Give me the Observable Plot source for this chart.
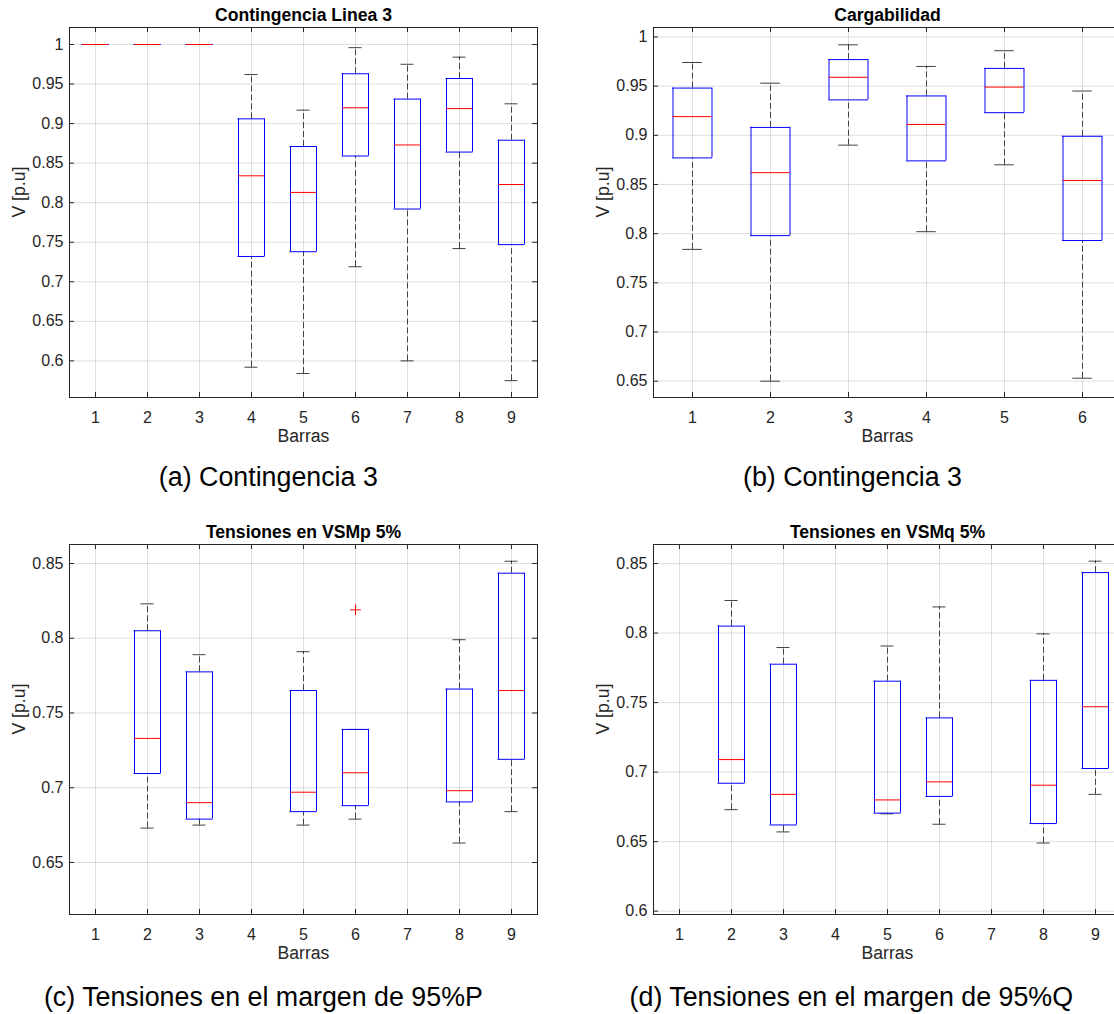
<!DOCTYPE html>
<html><head><meta charset="utf-8">
<script src="https://cdn.jsdelivr.net/npm/d3@7"></script>
<script src="https://cdn.jsdelivr.net/npm/@observablehq/plot@0.6"></script>
<style>
html,body{margin:0;padding:0;background:#fff;overflow:hidden;}
#page{position:relative;width:1114px;height:1014px;overflow:hidden;font-family:"Liberation Sans",Arial,sans-serif;background:#fff;}
.panel{position:absolute;}
.caption{position:absolute;width:600px;text-align:center;font-size:26.8px;line-height:26.8px;color:#000;white-space:nowrap;}
</style></head><body><div id="page"></div>
<script>
// ---------- Panel (a): Contingencia Linea 3 ----------
const barsA = [1, 2, 3, 4, 5, 6, 7, 8, 9];
const lowA  = [1, 1, 1, 0.592, 0.584, 0.719, 0.600, 0.742, 0.575];
const q1A   = [1, 1, 1, 0.732, 0.738, 0.859, 0.792, 0.864, 0.747];
const medA  = [1, 1, 1, 0.834, 0.813, 0.920, 0.873, 0.919, 0.823];
const q3A   = [1, 1, 1, 0.906, 0.871, 0.963, 0.931, 0.957, 0.879];
const highA = [1, 1, 1, 0.962, 0.917, 0.996, 0.975, 0.984, 0.925];
const yTicksA = [0.6, 0.65, 0.7, 0.75, 0.8, 0.85, 0.9, 0.95, 1];

// ---------- Panel (b): Cargabilidad ----------
const barsB = [1, 2, 3, 4, 5, 6];
const lowB  = [0.784, 0.650, 0.890, 0.802, 0.870, 0.653];
const q1B   = [0.877, 0.798, 0.936, 0.874, 0.923, 0.793];
const medB  = [0.919, 0.862, 0.959, 0.911, 0.949, 0.854];
const q3B   = [0.948, 0.908, 0.977, 0.940, 0.968, 0.899];
const highB = [0.974, 0.953, 0.992, 0.970, 0.986, 0.945];
const yTicksB = [0.65, 0.7, 0.75, 0.8, 0.85, 0.9, 0.95, 1];

// ---------- Panel (c): Tensiones en VSMp 5% ----------
const barsC = [2, 3, 5, 6, 8, 9];
const lowC  = [0.673, 0.675, 0.675, 0.679, 0.663, 0.684];
const q1C   = [0.7095, 0.679, 0.684, 0.688, 0.6905, 0.719];
const medC  = [0.733, 0.690, 0.697, 0.710, 0.698, 0.765];
const q3C   = [0.805, 0.7775, 0.765, 0.739, 0.766, 0.8435];
const highC = [0.823, 0.789, 0.791, 0.739, 0.799, 0.8515];
const outBarsC = [6];
const outValsC = [0.819];
const yTicksC = [0.65, 0.7, 0.75, 0.8, 0.85];

// ---------- Panel (d): Tensiones en VSMq 5% ----------
const barsD = [2, 3, 5, 6, 8, 9];
const lowD  = [0.673, 0.657, 0.670, 0.6625, 0.649, 0.684];
const q1D   = [0.692, 0.662, 0.6705, 0.6825, 0.663, 0.7026];
const medD  = [0.709, 0.684, 0.680, 0.693, 0.6906, 0.747];
const q3D   = [0.805, 0.7776, 0.7654, 0.739, 0.766, 0.8435];
const highD = [0.8234, 0.7896, 0.7907, 0.8188, 0.7994, 0.8517];
const yTicksD = [0.6, 0.65, 0.7, 0.75, 0.8, 0.85];

const xTicks9 = [1, 2, 3, 4, 5, 6, 7, 8, 9];
const xTicks6 = [1, 2, 3, 4, 5, 6];

const titles = ["Contingencia Linea 3", "Cargabilidad", "Tensiones en VSMp 5%", "Tensiones en VSMq 5%"];
const captions = ["(a) Contingencia 3", "(b) Contingencia 3", "(c) Tensiones en el margen de 95%P", "(d) Tensiones en el margen de 95%Q"];
const xLabel = "Barras";
const yLabel = "V [p.u]";

const FONT = '"Liberation Sans", Arial, sans-serif';
const INK = "#262626";

function boxPanel({bars, low, q1, med, q3, high, outBars = [], outVals = [], xTicks, yTicks, yDomain, title, width, marginLeft, marginRight}) {
  const height = 460, marginTop = 27, marginBottom = 63;
  const frameW = width - marginLeft - marginRight;
  const frameH = height - marginTop - marginBottom;
  const tk = 5;
  const idx = bars.map((_, i) => i);
  const oIdx = outBars.map((_, i) => i);
  const hw = 0.25, cw = 0.125;
  return Plot.plot({
    width, height, marginLeft, marginRight, marginTop, marginBottom,
    style: {fontFamily: FONT, fontSize: "16px", color: INK, background: "transparent", overflow: "visible"},
    x: {domain: [xTicks[0] - 0.5, xTicks[xTicks.length - 1] + 0.5]},
    y: {domain: yDomain},
    marks: [
      Plot.gridX(xTicks, {stroke: INK, strokeOpacity: 0.15}),
      Plot.gridY(yTicks, {stroke: INK, strokeOpacity: 0.15}),
      // whiskers (dashed)
      Plot.ruleX(idx, {x: i => bars[i], y1: i => q3[i], y2: i => high[i], stroke: "#000", strokeOpacity: 0.7, strokeDasharray: "6,3"}),
      Plot.ruleX(idx, {x: i => bars[i], y1: i => low[i], y2: i => q1[i], stroke: "#000", strokeOpacity: 0.7, strokeDasharray: "6,3"}),
      // whisker caps
      Plot.ruleY(idx, {y: i => high[i], x1: i => bars[i] - cw, x2: i => bars[i] + cw, stroke: "#000", strokeOpacity: 0.75}),
      Plot.ruleY(idx, {y: i => low[i], x1: i => bars[i] - cw, x2: i => bars[i] + cw, stroke: "#000", strokeOpacity: 0.75}),
      // boxes
      Plot.ruleY(idx, {y: i => q1[i], x1: i => bars[i] - hw, x2: i => bars[i] + hw, stroke: "#0000ff", strokeLinecap: "square"}),
      Plot.ruleY(idx, {y: i => q3[i], x1: i => bars[i] - hw, x2: i => bars[i] + hw, stroke: "#0000ff", strokeLinecap: "square"}),
      Plot.ruleX(idx, {x: i => bars[i] - hw, y1: i => q1[i], y2: i => q3[i], stroke: "#0000ff"}),
      Plot.ruleX(idx, {x: i => bars[i] + hw, y1: i => q1[i], y2: i => q3[i], stroke: "#0000ff"}),
      // medians
      Plot.ruleY(idx, {y: i => med[i], x1: i => bars[i] - hw, x2: i => bars[i] + hw, stroke: "#ff0000"}),
      // outliers
      Plot.dot(oIdx, {x: i => outBars[i], y: i => outVals[i], symbol: "plus", r: 3.5, stroke: "#ff0000", strokeWidth: 1}),
      // frame and inward ticks
      Plot.frame({stroke: INK}),
      Plot.ruleX(xTicks, {x: d => d, insetTop: frameH - tk, stroke: INK}),
      Plot.ruleX(xTicks, {x: d => d, insetBottom: frameH - tk, stroke: INK}),
      Plot.ruleY(yTicks, {y: d => d, insetRight: frameW - tk, stroke: INK}),
      Plot.ruleY(yTicks, {y: d => d, insetLeft: frameW - tk, stroke: INK}),
      Plot.axisX({ticks: xTicks, tickSize: 0, tickPadding: 14, label: null, tickFormat: d => String(d)}),
      Plot.axisY({ticks: yTicks, tickSize: 0, tickPadding: 6, label: null, tickFormat: d3.format("~g")}),
      // title and axis labels
      Plot.text([title], {text: d => d, frameAnchor: "top", dy: -7, lineAnchor: "bottom", fontWeight: "bold", fontSize: 17.6, fill: "#000"}),
      Plot.text([xLabel], {text: d => d, frameAnchor: "bottom", dy: 44, fontSize: 17.6, fill: INK}),
      Plot.text([yLabel], {text: d => d, frameAnchor: "left", dx: -50, dy: 5, rotate: -90, fontSize: 17.6, fill: INK})
    ]
  });
}

const page = document.getElementById("page");
function place(el, left, top) {
  el.classList.add("panel");
  el.style.left = left + "px";
  el.style.top = top + "px";
  page.appendChild(el);
}

place(boxPanel({bars: barsA, low: lowA, q1: q1A, med: medA, q3: q3A, high: highA,
  xTicks: xTicks9, yTicks: yTicksA, yDomain: [0.5537, 1.0215], title: titles[0],
  width: 557, marginLeft: 69, marginRight: 20}), 0, 0);
place(boxPanel({bars: barsB, low: lowB, q1: q1B, med: medB, q3: q3B, high: highB,
  xTicks: xTicks6, yTicks: yTicksB, yDomain: [0.6334, 1.0096], title: titles[1],
  width: 570, marginLeft: 92, marginRight: 10}), 561, 0);
place(boxPanel({bars: barsC, low: lowC, q1: q1C, med: medC, q3: q3C, high: highC,
  outBars: outBarsC, outVals: outValsC,
  xTicks: xTicks9, yTicks: yTicksC, yDomain: [0.6152, 0.8627], title: titles[2],
  width: 557, marginLeft: 69, marginRight: 20}), 0, 517);
place(boxPanel({bars: barsD, low: lowD, q1: q1D, med: medD, q3: q3D, high: highD,
  xTicks: xTicks9, yTicks: yTicksD, yDomain: [0.5976, 0.8637], title: titles[3],
  width: 570, marginLeft: 92, marginRight: 10}), 561, 517);

// captions (below each chart)
const capPos = [[268.3, 464.4], [852.5, 464.4], [263.4, 984.4], [851.3, 984.4]];
captions.forEach((c, i) => {
  const d = document.createElement("div");
  d.className = "caption";
  d.textContent = c;
  d.style.left = (capPos[i][0] - 300) + "px";
  d.style.top = capPos[i][1] + "px";
  page.appendChild(d);
});
</script></body></html>
